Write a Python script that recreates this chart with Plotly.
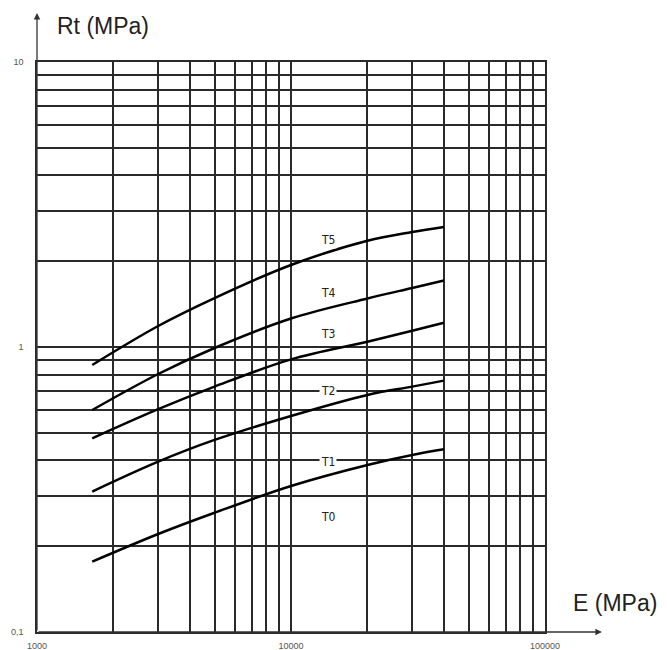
import math
import plotly.graph_objects as go

# Data
E = [1650, 3000, 5000, 10000, 20000, 30000, 40000]
T5 = [0.865, 1.185, 1.485, 1.94, 2.36, 2.532, 2.637]
T4 = [0.601, 0.804, 0.992, 1.259, 1.48, 1.611, 1.711]
T3 = [0.478, 0.605, 0.726, 0.905, 1.044, 1.141, 1.217]
T2 = [0.311, 0.396, 0.472, 0.573, 0.679, 0.726, 0.762]
T1 = [0.1765, 0.2207, 0.262, 0.3253, 0.3855, 0.418, 0.4375]

curve_labels = ["T5", "T4", "T3", "T2", "T1", "T0"]
label_E = [14000, 14000, 14000, 14000, 14000, 14000]
label_Rt = [2.37, 1.543, 1.11, 0.703, 0.396, 0.254]

x_grid = [1000, 2000, 3000, 4000, 5000, 6000, 7000, 8000, 9000,
          10000, 20000, 30000, 40000, 50000, 60000, 70000, 80000, 90000, 100000]
x_text = ["1000"] + [""] * 8 + ["10000"] + [""] * 8 + ["100000"]
y_grid = [0.1, 0.2, 0.3, 0.4, 0.5, 0.6, 0.7, 0.8, 0.9,
          1, 2, 3, 4, 5, 6, 7, 8, 9, 10]
y_text = ["0,1"] + [""] * 8 + ["1"] + [""] * 8 + ["10"]

fig = go.Figure()
for ys in [T5, T4, T3, T2, T1]:
    fig.add_trace(go.Scatter(x=E, y=ys, mode="lines",
                             line=dict(color="black", width=2.5, shape="spline", smoothing=1.0),
                             showlegend=False, hoverinfo="skip"))

label_font = dict(family="Liberation Sans Narrow, DejaVu Sans Condensed, Arial", size=12, color="#222")
for t, xe, yr in zip(curve_labels, label_E, label_Rt):
    fig.add_annotation(x=math.log10(xe), y=math.log10(yr), xref="x", yref="y", text=t, showarrow=False,
                       font=label_font, bgcolor="white", borderpad=1)

gridc = "#2a2a2a"
fig.update_xaxes(type="log", range=[3, 5], tickvals=x_grid, ticktext=x_text, showgrid=True,
                 gridcolor=gridc, gridwidth=1.5, showline=True, mirror=True, linecolor=gridc, linewidth=1.5,
                 ticks="", tickfont=dict(family="Arial, Liberation Sans", size=9, color="#555"),
                 ticklabelstandoff=4, zeroline=False, automargin=False)
fig.update_yaxes(type="log", range=[-1, 1], tickvals=y_grid, ticktext=y_text, showgrid=True,
                 gridcolor=gridc, gridwidth=1.5, showline=True, mirror=True, linecolor=gridc, linewidth=1.5,
                 ticks="", tickfont=dict(family="Arial, Liberation Sans", size=9, color="#555"),
                 ticklabelstandoff=10, zeroline=False, automargin=False)

# Axis arrows
fig.add_annotation(xref="paper", yref="paper", x=1.112, y=0, ax=-565, ay=0, axref="pixel", ayref="pixel",
                   text="", showarrow=True, arrowhead=2, arrowsize=1, arrowwidth=1.3, arrowcolor="#333")
fig.add_annotation(xref="paper", yref="paper", x=0, y=1.086, ax=0, ay=619, axref="pixel", ayref="pixel",
                   text="", showarrow=True, arrowhead=2, arrowsize=1, arrowwidth=1.3, arrowcolor="#333")

title_font = dict(family="Liberation Sans, Arial", size=23, color="#222")
fig.add_annotation(xref="paper", yref="paper", x=(55 - 37) / 508, y=1 + (62 - 26) / 570,
                   text="Rt (MPa)", showarrow=False, xanchor="left", yanchor="middle", font=title_font)
fig.add_annotation(xref="paper", yref="paper", x=1 + (571 - 545) / 508, y=(632 - 603) / 570, text="E (MPa)",
                   showarrow=False, xanchor="left", yanchor="middle", font=title_font)

fig.update_layout(width=667, height=650, margin=dict(l=37, r=122, t=62, b=18, autoexpand=False),
                  paper_bgcolor="white", plot_bgcolor="white", showlegend=False)

fig.write_html("out.html", config={"displayModeBar": False},
               post_script="document.body.style.margin='0';document.body.style.padding='0';")
